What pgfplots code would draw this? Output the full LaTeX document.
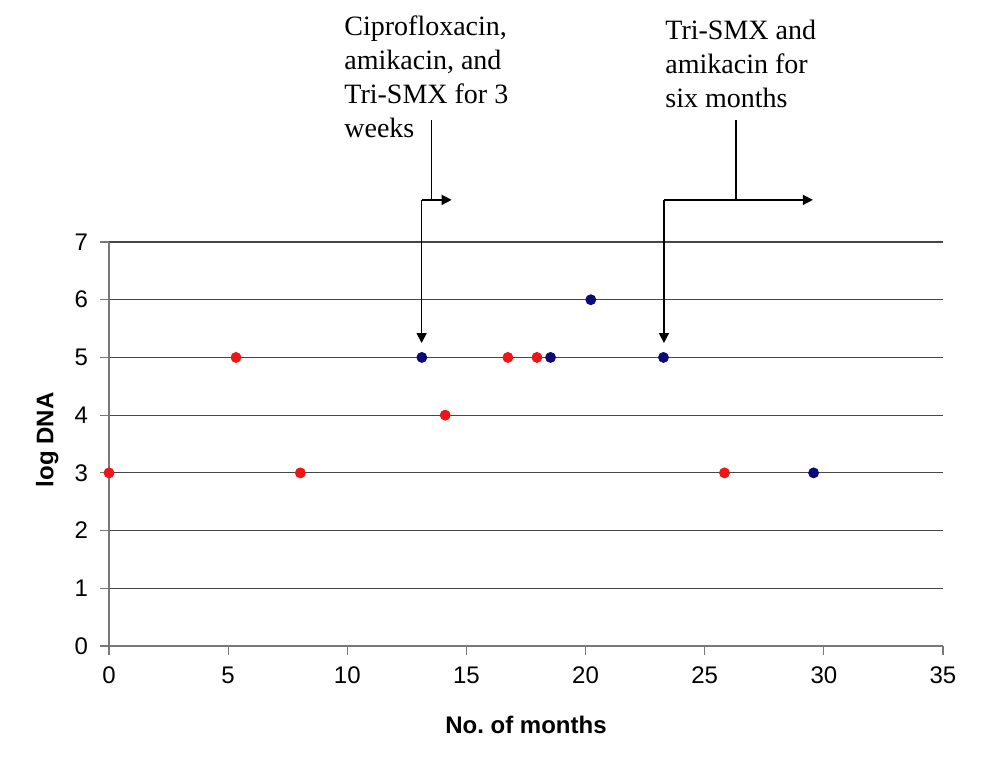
\documentclass[border=0pt]{standalone}
\usepackage{pgfplots}
\pgfplotsset{compat=1.18}
\usepackage{fontspec}
\setmainfont{Liberation Sans}
\newfontfamily\serif{Liberation Serif}
\usetikzlibrary{arrows.meta}

\definecolor{ptred}{RGB}{240,20,20}
\definecolor{ptblue}{RGB}{10,10,120}
\definecolor{gridc}{RGB}{70,70,70}
\definecolor{axc}{RGB}{120,120,120}

\begin{document}
\begin{tikzpicture}
% page frame, same proportions as the reference (1px = 0.5pt)
\path[use as bounding box] (-54.5pt,-61pt) rectangle (439pt,323pt);

\begin{axis}[
    at={(0,0)}, anchor=south west,
    scale only axis,
    width=417pt, height=202pt,
    xmin=0, xmax=35, ymin=0, ymax=7,
    xtick={0,5,...,35}, ytick={0,1,...,7},
    axis x line=bottom, axis y line=left,
    axis line style={-, axc, line width=0.6pt},
    tick style={axc, line width=0.6pt},
    tick align=outside, major tick length=4.5pt,
    ymajorgrids=true,
    grid style={gridc, line width=0.6pt},
    ticklabel style={font=\fontsize{12}{14}\selectfont},
    xticklabel style={yshift=-2.5pt},
    yticklabel style={xshift=-2.5pt},
    /pgf/number format/assume math mode=true,
    xlabel={No.\ of months},
    ylabel={log DNA},
    label style={font=\fontsize{12}{14}\selectfont\bfseries},
    xlabel style={at={(axis description cs:0.5,-0.196)}, anchor=center},
    ylabel style={at={(axis description cs:-0.074,0.51)}, anchor=center, rotate=0},
    clip=false,
]
% red series
\addplot[only marks, mark=*, mark size=2.5pt, ptred] coordinates {
    (0,3) (5.33,5) (8.03,3) (14.11,4) (16.74,5) (17.96,5) (25.83,3)
};
% blue series
\addplot[only marks, mark=*, mark size=2.5pt, ptblue] coordinates {
    (13.13,5) (18.53,5) (20.22,6) (23.27,5) (29.57,3)
};

% treatment arrows
\draw[line width=0.75pt] (axis cs:13.54,9.11) -- (axis cs:13.54,7.73);
\draw[line width=0.75pt, -{Triangle[length=5pt,width=5pt]}] (axis cs:13.12,7.73) -- (axis cs:14.38,7.73);
\draw[line width=0.75pt, -{Triangle[length=5pt,width=5pt]}] (axis cs:13.12,7.73) -- (axis cs:13.12,5.25);

\draw[line width=0.75pt] (axis cs:26.31,9.11) -- (axis cs:26.31,7.73);
\draw[line width=0.75pt, -{Triangle[length=5pt,width=5pt]}] (axis cs:23.29,7.73) -- (axis cs:29.54,7.73);
\draw[line width=0.75pt, -{Triangle[length=5pt,width=5pt]}] (axis cs:23.29,7.73) -- (axis cs:23.29,5.25);
\end{axis}

% annotation text
\begin{scope}[every node/.style={anchor=base west, inner sep=0pt, font=\serif\fontsize{14}{17}\selectfont}]
\node at (117.5pt,305.5pt) {Ciprofloxacin,};
\node at (117.5pt,288.5pt) {amikacin, and};
\node at (117.5pt,271.5pt) {Tri-SMX for 3};
\node at (117.5pt,254.5pt) {weeks};
\node at (278pt,303.5pt) {Tri-SMX and};
\node at (278pt,286.5pt) {amikacin for};
\node at (278pt,269.5pt) {six months};
\end{scope}
\end{tikzpicture}
\end{document}
